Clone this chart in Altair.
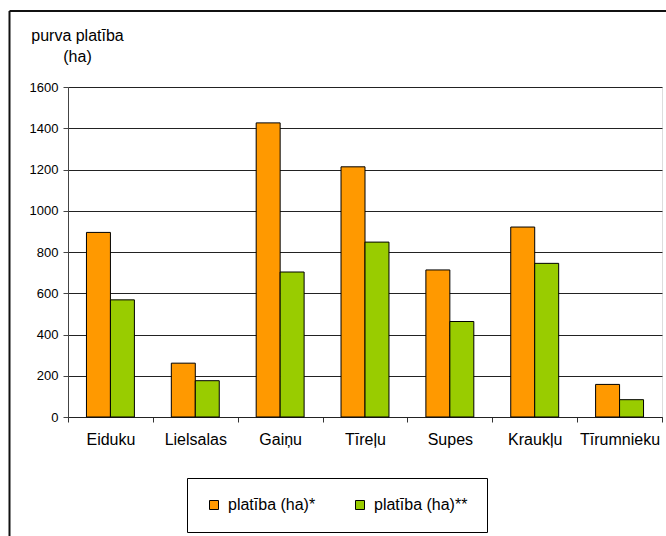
import altair as alt
import pandas as pd

# Peat bog areas per bog, two estimates
bogs = ["Eiduku", "Lielsalas", "Gaiņu", "Tīreļu", "Supes", "Kraukļu", "Tīrumnieku"]
area_1 = [895, 261, 1426, 1213, 713, 921, 158]
area_2 = [568, 176, 703, 848, 463, 745, 84]
series_names = ["platība (ha)*", "platība (ha)**"]
series_colors = ["#FF9900", "#99CC00"]
y_ticks = list(range(0, 1601, 200))

rows = []
for i, b in enumerate(bogs):
    rows.append({"bog": b, "series": series_names[0], "area": area_1[i]})
    rows.append({"bog": b, "series": series_names[1], "area": area_2[i]})
df = pd.DataFrame(rows)

FONT = "Liberation Sans"

bars = alt.Chart(df).mark_bar(stroke="black", strokeWidth=1).encode(
    x=alt.X(
        "bog:N",
        sort=bogs,
        scale=alt.Scale(paddingInner=0, paddingOuter=0),
        axis=alt.Axis(
            title=None,
            labelAngle=0,
            labelFontSize=16,
            labelPadding=9,
            tickSize=5,
            tickBand="extent",
            tickColor="#333333",
            domainColor="#222222",
            grid=False,
            labelColor="black",
        ),
    ),
    xOffset=alt.XOffset(
        "series:N",
        sort=series_names,
        scale=alt.Scale(paddingInner=0, paddingOuter=0.77),
    ),
    y=alt.Y(
        "area:Q",
        scale=alt.Scale(domain=[0, 1600], nice=False),
        axis=alt.Axis(
            values=y_ticks,
            format="d",
            grid=True,
            gridColor="#222222",
            gridWidth=1,
            tickSize=5,
            tickColor="#444444",
            domainColor="#444444",
            labelFontSize=13,
            labelPadding=5,
            labelColor="black",
            title=["purva platība", "(ha)"],
            titleAngle=0,
            titleAlign="center",
            titleBaseline="top",
            titleX=9,
            titleY=-60,
            titleFontSize=16,
            titleFontWeight="normal",
            titleLineHeight=21,
            titleColor="black",
        ),
    ),
    color=alt.Color(
        "series:N",
        sort=series_names,
        scale=alt.Scale(domain=series_names, range=series_colors),
        legend=alt.Legend(
            title=None,
            orient="none",
            legendX=119,
            legendY=391,
            direction="horizontal",
            strokeColor="black",
            fillColor="white",
            padding=19,
            labelFontSize=16,
            labelColor="black",
            labelOffset=6,
            columnPadding=36,
            symbolType="square",
            symbolSize=81,
            symbolStrokeColor="black",
            symbolStrokeWidth=1,
            symbolOpacity=1,
        ),
    ),
)

# Outer chart frame (left and top edges)
one = pd.DataFrame({"k": [0]})
frame_left = alt.Chart(one).mark_rule(color="#111111", strokeWidth=2).encode(
    x=alt.value(-58.5), y=alt.value(-76), y2=alt.value(600)
)
frame_top = alt.Chart(one).mark_rule(color="#111111", strokeWidth=2).encode(
    y=alt.value(-76), x=alt.value(-58.5), x2=alt.value(700)
)

chart = alt.layer(bars, frame_left, frame_top).properties(
    width=594,
    height=330,
    autosize=alt.AutoSizeParams(type="none"),
    padding={"left": 68, "top": 87, "right": 4, "bottom": 119},
    background="white",
).configure_view(
    stroke="#808080", strokeWidth=1
).configure(
    font=FONT
)

chart.save("out.html", embed_options={"renderer": "svg", "actions": False})
